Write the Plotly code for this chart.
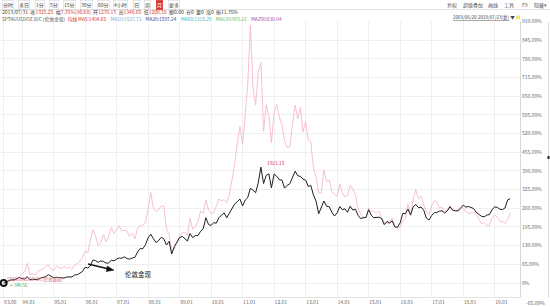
import plotly.graph_objects as go
import pandas as pd

# ---- data (percent change from 2003.06, monthly) ----
dates = pd.date_range("2003-06-01", "2019-07-01", freq="MS")

gold_pct = [
    0, 2, 8, 11, 11, 14, 19,
    15, 14, 22, 11, 13, 13, 12, 17, 19, 22, 29, 25,
    18, 20, 19, 20, 17, 21, 20, 21, 28, 29, 34, 40,
    55, 52, 59, 80, 78, 72, 77, 75, 69, 70, 79, 77,
    83, 87, 86, 91, 85, 83, 87, 89, 108, 120, 119, 133,
    157, 170, 155, 141, 147, 159, 154, 132, 145, 101, 127, 142,
    158, 162, 155, 146, 172, 158, 165, 165, 180, 189, 227, 204,
    200, 210, 208, 227, 236, 244, 227, 245, 261, 275, 283, 292,
    268, 289, 297, 329, 323, 314, 348, 403, 346, 374, 380, 331,
    379, 371, 359, 358, 330, 340, 345, 366, 389, 373, 371, 361,
    358, 335, 340, 306, 285, 241, 266, 285, 267, 265, 246, 233,
    244, 266, 255, 258, 246, 267, 254, 256, 235, 224, 227, 228,
    255, 236, 227, 228, 229, 224, 203, 214, 209, 216, 195, 194,
    209, 242, 241, 257, 236, 265, 273, 262, 264, 253, 225, 219,
    235, 245, 245, 250, 251, 243, 251, 265, 254, 251, 252, 260,
    271, 264, 266, 263, 259, 246, 239, 232, 230, 236, 238, 254,
    265, 263, 257, 255, 261, 289, 293,
]

silver_pct = [
    0, 8, 7, 9, 8, 14, 24,
    33, 40, 68, 29, 32, 27, 41, 45, 49, 57, 63, 47,
    44, 59, 54, 50, 58, 52, 55, 48, 62, 66, 76, 88,
    111, 106, 144, 185, 164, 129, 140, 168, 144, 162, 193, 173,
    183, 199, 181, 183, 181, 162, 173, 153, 191, 199, 201, 212,
    255, 315, 261, 249, 255, 268, 268, 189, 170, 108, 117, 139,
    166, 175, 177, 164, 226, 187, 195, 214, 251, 241, 288, 255,
    241, 245, 268, 292, 286, 290, 278, 309, 361, 414, 489, 544,
    482, 608, 687, 897, 680, 620, 732, 767, 528, 619, 582, 489,
    592, 621, 578, 551, 493, 472, 474, 551, 619, 571, 611, 526,
    563, 495, 491, 402, 367, 313, 313, 392, 354, 358, 317, 309,
    301, 344, 313, 299, 305, 340, 328, 307, 257, 241, 226, 228,
    261, 249, 249, 243, 251, 228, 210, 208, 206, 226, 197, 191,
    195, 216, 224, 274, 237, 292, 325, 292, 303, 272, 247, 237,
    268, 286, 282, 261, 263, 249, 253, 270, 251, 251, 247, 255,
    263, 247, 243, 243, 245, 241, 226, 206, 210, 201, 199, 226,
    237, 228, 216, 214, 208, 222, 243,
]

x_tickvals = ["2003-06-01"] + [f"{y}-01-01" for y in range(2004, 2020)]
y_tickvals = list(range(0, 911, 65))
y_ticktext = ["0%" if v == 0 else f"{v:.2f}%" for v in y_tickvals]

FONT = "Noto Sans CJK SC, Noto Sans, sans-serif"

fig = go.Figure()
fig.add_trace(go.Scatter(x=dates, y=silver_pct, mode="lines",
                         line=dict(color="#f6b9c5", width=0.9), hoverinfo="skip"))
fig.add_trace(go.Scatter(x=dates, y=gold_pct, mode="lines",
                         line=dict(color="#1e1e1e", width=1.0), hoverinfo="skip"))
fig.add_trace(go.Scatter(x=[dates[0]], y=[gold_pct[0]], mode="markers",
                         marker=dict(symbol="circle-open", size=6, color="#111",
                                     line=dict(width=2, color="#111")),
                         hoverinfo="skip"))

L, R, T, B = 0, 520, 21, 297


def px(x):
    return (x - L) / (R - L)


def py(y):
    return (B - y) / (B - T)


ann = []


def txt(x, y, s, size=5.5, color="#444", **kw):
    d = dict(x=px(x), y=py(y), xref="paper", yref="paper", text=s, showarrow=False,
             xanchor="left", yanchor="middle", font=dict(size=size, color=color, family=FONT))
    d.update(kw)
    ann.append(d)


# toolbar row
buttons = [("分时", 2), ("多日", 18), ("1分", 35), ("5分", 49), ("15分", 63), ("30分", 80),
           ("60分", 97), ("4小时", 113), ("日", 133), ("周", 144)]
for s, x in buttons:
    txt(x, 4.5, s, size=5, color="#444", bordercolor="#d0d0d0", borderwidth=0.5, borderpad=0.5)
txt(156, 4.5, "月", size=5, color="#ffffff", bgcolor="#d9342b", bordercolor="#d9342b",
    borderwidth=0.5, borderpad=0.5)
txt(168, 4.5, "更多", size=5, color="#444", bordercolor="#d0d0d0", borderwidth=0.5, borderpad=0.5)
for s, x in [("复权", 445), ("超级叠加", 461), ("画线", 486), ("工具", 502), ("F9", 520), ("隐藏▾", 532)]:
    txt(x, 4.5, s, size=5, color="#555")

# info row
txt(0, 12.5,
    "2013/07/31  收<span style='color:#d9342b'>1325.25</span>  幅<span style='color:#d9342b'>7.35%(90.68)</span>"
    "  开<span style='color:#d9342b'>1235.15</span>  高<span style='color:#d9342b'>1348.65</span>"
    "  低<span style='color:#d9342b'>1208.58</span>  额0.00  仓0  量0  涨0  振11.35%",
    size=5, color="#444")

# legend row
txt(0, 18.5,
    "SPTAUUSDOZ.IDC (伦敦金现)  <span style='color:#d9342b'>均线 MA5:1404.65</span>"
    "    <span style='color:#6fa8dc'>MA10:1537.73</span>"
    "    <span style='color:#2a3f8f'>MA20:1597.24</span>"
    "    <span style='color:#29b6c6'>MA60:1318.29</span>"
    "    <span style='color:#5cb85c'>MA120:905.22</span>"
    "    <span style='color:#a040b0'>MA250:630.04</span>",
    size=4.8, color="#555")
txt(451, 17.5, "<u>2003/06/20-2019/07/23(复)</u> ▼", size=4.5, color="#444")

# chart annotations
txt(265, 162, "1921.15", size=4.8, color="#d9342b")
txt(123, 274, "伦敦金现", size=6.5, color="#222")
txt(5, 279, "SPTAGUSDOZ.IDC(伦敦银现)", size=4.3, color="#e0607a")
txt(8, 284.5, "←346.55", size=4.3, color="#33a033")
txt(524, 302, "-65.00%", size=5, color="#666")

# arrow (line + head) pointing to the "伦敦金现" label
fig.add_shape(type="line", xref="paper", yref="paper", x0=px(88), y0=py(264), x1=px(109), y1=py(269),
              line=dict(color="#111", width=1.3))
fig.add_shape(type="path", xref="paper", yref="paper",
              path=f"M {px(114)} {py(270.2)} L {px(107.3)} {py(266.0)} L {px(106.2)} {py(271.5)} Z",
              fillcolor="#111", line=dict(color="#111", width=0.5))

fig.update_layout(
    width=550, height=307,
    margin=dict(l=L, r=550 - R, t=T, b=307 - B),
    paper_bgcolor="white", plot_bgcolor="white",
    showlegend=False,
    font=dict(family=FONT, size=5.5, color="#666"),
    annotations=ann,
    xaxis=dict(type="date", range=["2003-04-20", "2019-10-22"],
               tickvals=x_tickvals, tickformat="%y.%m", tickangle=0,
               ticklabelposition="outside right",
               showgrid=True, gridcolor="#efefef", gridwidth=1,
               showline=True, linecolor="#e4e4e4", linewidth=1,
               ticks="", zeroline=False,
               tickfont=dict(size=5, color="#666", family=FONT)),
    yaxis=dict(side="right", range=[-48.7, 911.3],
               tickvals=y_tickvals, ticktext=y_ticktext,
               showgrid=True, gridcolor="#efefef", gridwidth=1,
               zeroline=False, showline=True, linecolor="#d8d8d8", linewidth=1,
               ticks="", tickfont=dict(size=5, color="#666", family=FONT)),
)

fig.add_shape(type="line", xref="paper", yref="paper", x0=px(0), x1=px(550),
              y0=py(9.5), y1=py(9.5), line=dict(color="#e4e4e4", width=1))
fig.add_shape(type="rect", xref="paper", yref="paper", x0=px(516), x1=px(520),
              y0=py(15.5), y1=py(19.5), fillcolor="#f6e27a", line=dict(width=0))
fig.add_shape(type="line", xref="paper", yref="paper", x0=px(548.5), x1=px(548.5),
              y0=py(22), y1=py(297), line=dict(color="#dddddd", width=1))
fig.add_shape(type="rect", xref="paper", yref="paper", x0=px(547.5), x1=px(549.5),
              y0=py(156), y1=py(159), fillcolor="#222", line=dict(width=0))

fig.write_html("out.html")
